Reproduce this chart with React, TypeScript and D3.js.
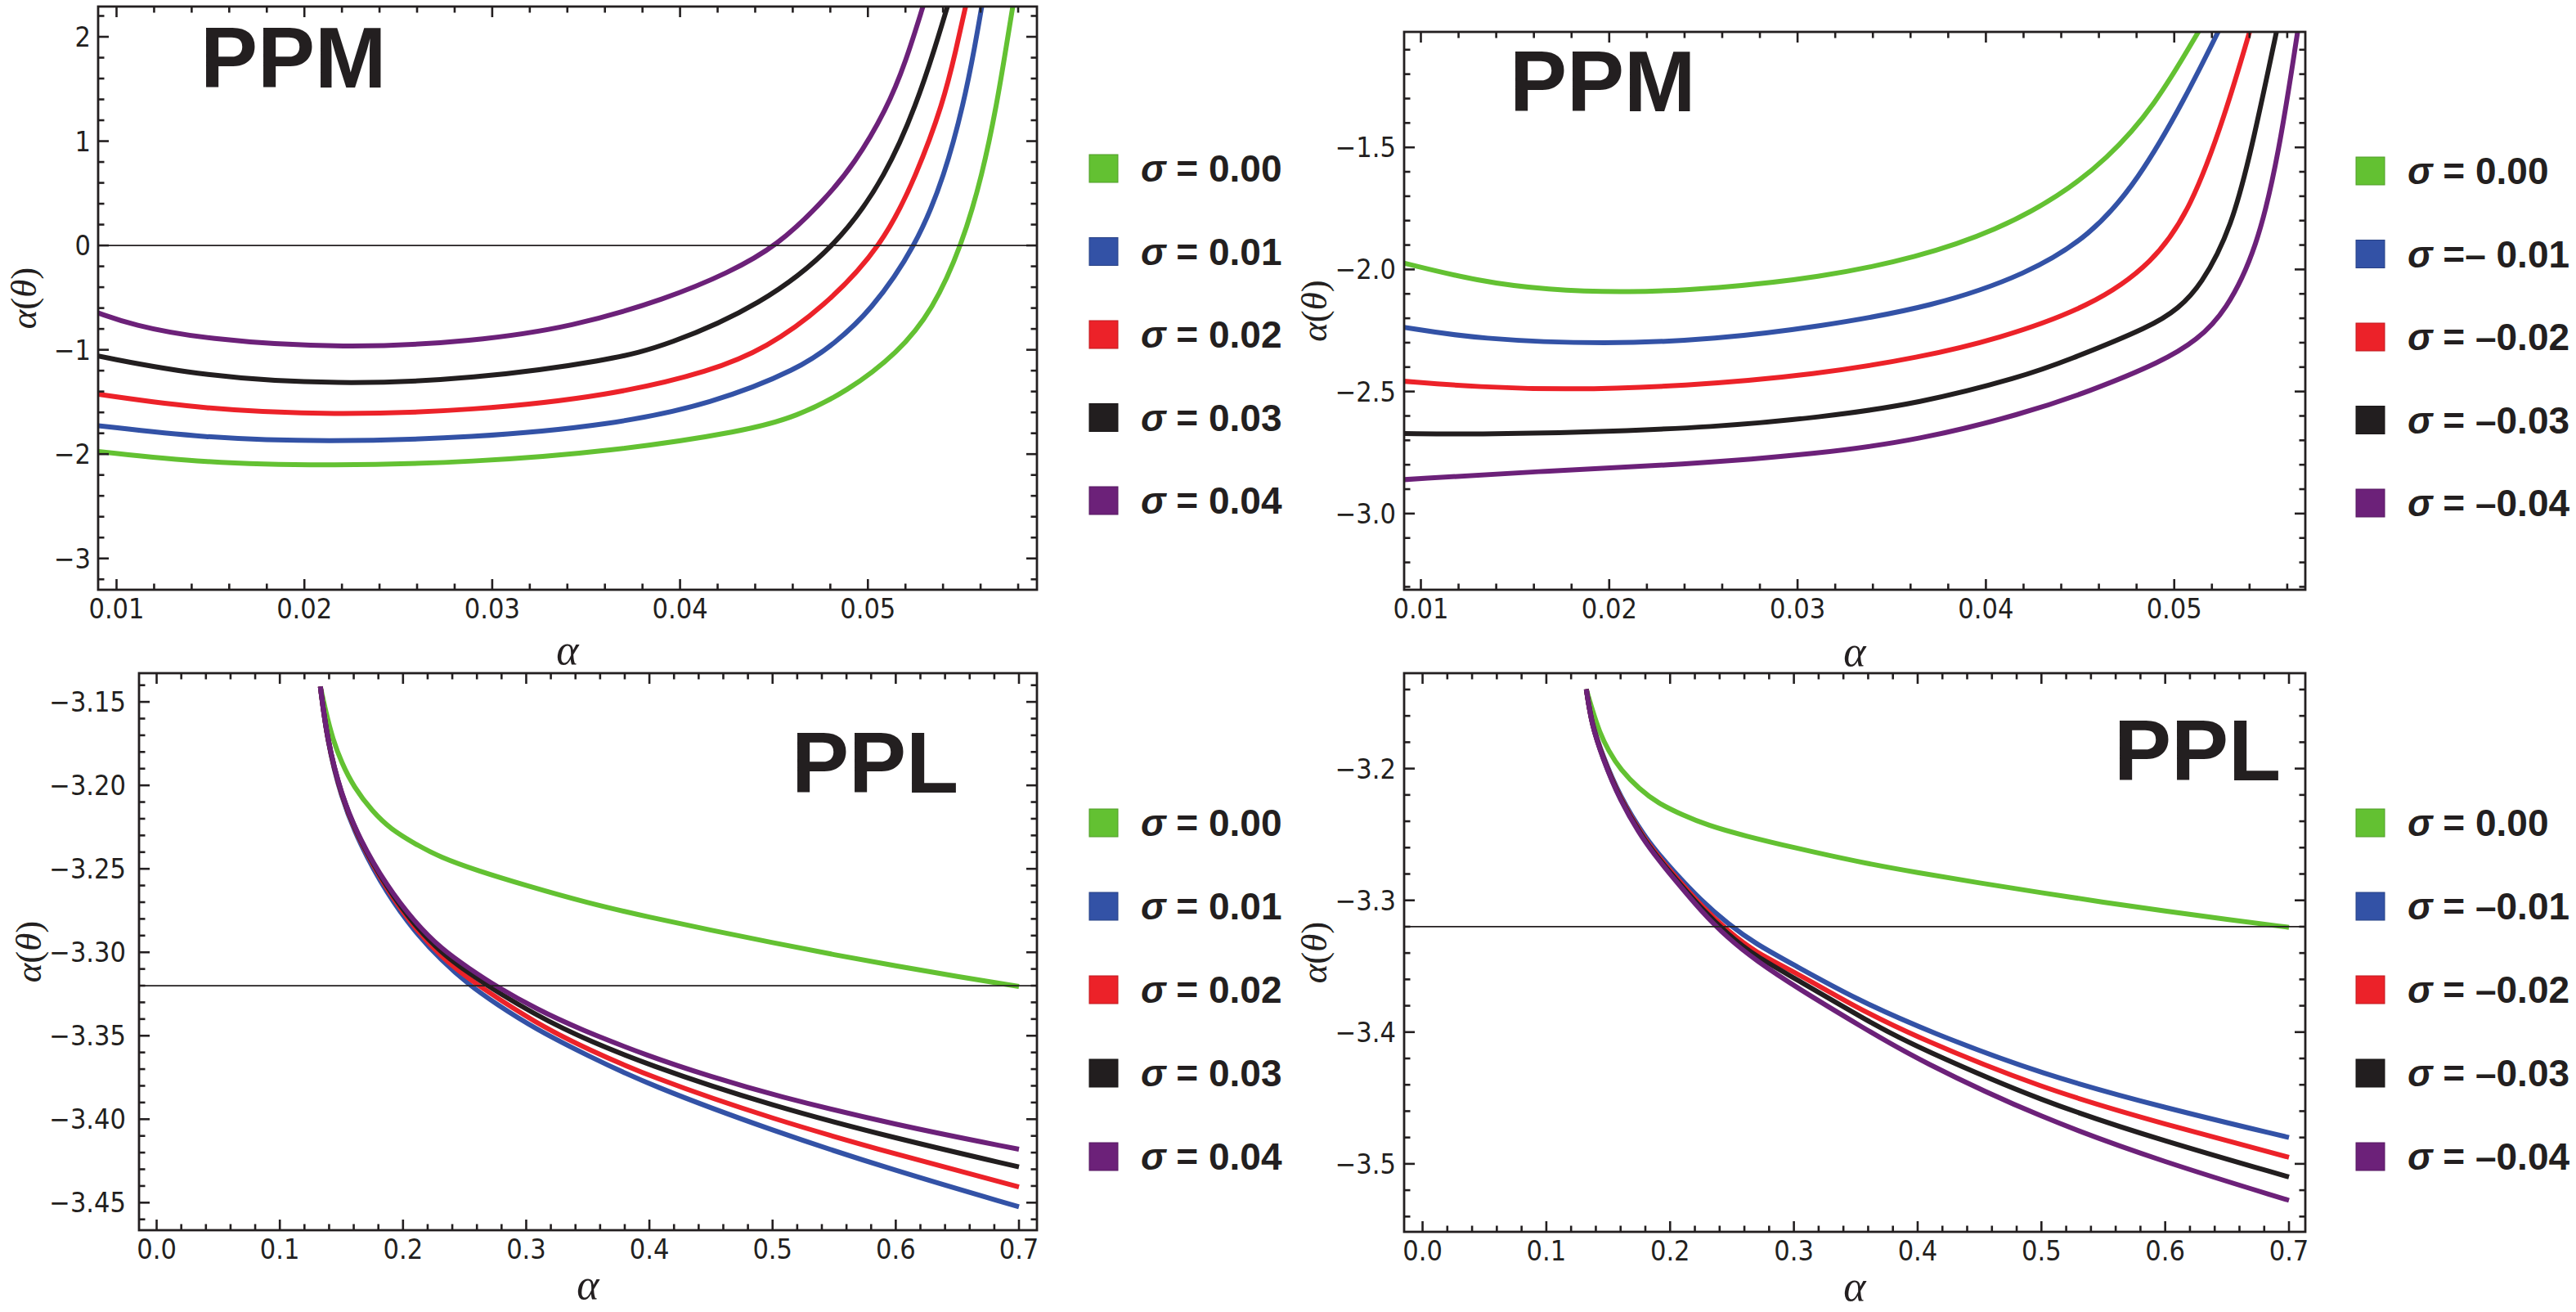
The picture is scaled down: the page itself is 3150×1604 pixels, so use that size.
import React, { useEffect, useRef } from 'react';
import * as d3 from 'd3';

type Pt = [number, number];

// PPM, sigma >= 0 (top left)
const ppmPosGreen: Pt[] = [[0.00902, -1.975], [0.0146, -2.085], [0.0215, -2.114], [0.029, -2.077], [0.0363, -1.975], [0.0435, -1.779], [0.0462, -1.64], [0.0489, -1.4], [0.0516, -1.03], [0.05345, -0.62], [0.055, 0], [0.0561, 0.68], [0.05687, 1.36], [0.05737, 1.91], [0.05775, 2.33]];
const ppmPosBlue: Pt[] = [[0.00902, -1.727], [0.0146, -1.844], [0.0211, -1.884], [0.029, -1.844], [0.0363, -1.722], [0.0417, -1.518], [0.0464, -1.178], [0.0482, -0.941], [0.0501, -0.64], [0.0526, 0], [0.0541, 0.68], [0.0551, 1.36], [0.0557, 1.91], [0.0561, 2.33]];
const ppmPosRed: Pt[] = [[0.00902, -1.426], [0.0146, -1.57], [0.0215, -1.627], [0.029, -1.583], [0.0363, -1.439], [0.0417, -1.204], [0.0446, -0.98], [0.0476, -0.601], [0.0508, 0], [0.0526, 0.68], [0.054, 1.36], [0.0547, 1.88], [0.05525, 2.33]];
const ppmPosBlack: Pt[] = [[0.00902, -1.06], [0.0146, -1.256], [0.0218, -1.335], [0.029, -1.282], [0.0363, -1.099], [0.0393, -0.96], [0.0443, -0.575], [0.0484, 0], [0.051, 0.68], [0.0526, 1.36], [0.0536, 1.91], [0.0543, 2.33]];
const ppmPosPurple: Pt[] = [[0.009, -0.645], [0.0108, -0.76], [0.0146, -0.9], [0.0222, -0.99], [0.029, -0.92], [0.0343, -0.78], [0.0393, -0.51], [0.0426, -0.261], [0.0452, 0], [0.0476, 0.418], [0.0493, 0.784], [0.051, 1.307], [0.052, 1.75], [0.053, 2.33]];

// PPM, sigma <= 0 (top right)
const ppmNegGreen: Pt[] = [[0.0091, -1.974], [0.01306, -2.049], [0.01667, -2.084], [0.021, -2.096], [0.02568, -2.078], [0.0311, -2.035], [0.0364, -1.951], [0.0406, -1.839], [0.0439, -1.7], [0.0464, -1.55], [0.0489, -1.34], [0.0514, -1.011]];
const ppmNegBlue: Pt[] = [[0.0091, -2.237], [0.01306, -2.286], [0.0199, -2.307], [0.02568, -2.286], [0.0311, -2.235], [0.03725, -2.152], [0.04224, -2.018], [0.04557, -1.861], [0.04807, -1.638], [0.05057, -1.302], [0.0525, -1.0]];
const ppmNegRed: Pt[] = [[0.0091, -2.458], [0.01306, -2.482], [0.01775, -2.493], [0.02387, -2.479], [0.0311, -2.43], [0.0365, -2.36], [0.0406, -2.286], [0.0456, -2.152], [0.0489, -1.973], [0.0509, -1.749], [0.0527, -1.369], [0.0541, -1.0]];
const ppmNegBlack: Pt[] = [[0.0091, -2.672], [0.01306, -2.675], [0.01847, -2.668], [0.02568, -2.646], [0.0311, -2.607], [0.0365, -2.549], [0.0419, -2.44], [0.04424, -2.376], [0.0489, -2.23], [0.0502, -2.16], [0.05139, -2.07], [0.05306, -1.83], [0.05422, -1.47], [0.0555, -1.0]];
const ppmNegPurple: Pt[] = [[0.0091, -2.861], [0.01667, -2.825], [0.02387, -2.8], [0.0311, -2.756], [0.03649, -2.698], [0.0419, -2.593], [0.0455, -2.5], [0.0494, -2.376], [0.0512, -2.29], [0.05273, -2.174], [0.05439, -1.917], [0.05556, -1.526], [0.05655, -1.027]];

// PPL, sigma >= 0 (bottom left)
const pplPosGreen: Pt[] = [[0.1329, -3.1408], [0.1373, -3.1559], [0.1429, -3.1722], [0.15, -3.1862], [0.16, -3.201], [0.175, -3.2155], [0.19, -3.2262], [0.21, -3.2352], [0.23, -3.243], [0.26, -3.251], [0.3, -3.26], [0.35, -3.2705], [0.4, -3.279], [0.45, -3.2868], [0.5, -3.2942], [0.55, -3.3015], [0.6, -3.3082], [0.65, -3.3145], [0.7, -3.3205]];
const pplPosBlue: Pt[] = [[0.1329, -3.1408], [0.1384, -3.173], [0.1495, -3.207], [0.165, -3.2355], [0.1871, -3.265], [0.2093, -3.2875], [0.2314, -3.305], [0.2535, -3.3195], [0.2757, -3.331], [0.3066, -3.3456], [0.35, -3.362], [0.4, -3.3795], [0.5, -3.407], [0.6, -3.431], [0.7, -3.4525]];
const pplPosRed: Pt[] = [[0.1329, -3.1408], [0.1384, -3.1726], [0.1495, -3.206], [0.165, -3.234], [0.1871, -3.2628], [0.2093, -3.2855], [0.2314, -3.303], [0.2535, -3.316], [0.2757, -3.327], [0.3155, -3.3456], [0.35, -3.358], [0.4, -3.3745], [0.5, -3.4], [0.6, -3.421], [0.7, -3.4406]];
const pplPosBlack: Pt[] = [[0.1329, -3.1408], [0.1384, -3.1724], [0.1495, -3.2055], [0.165, -3.2334], [0.1871, -3.2615], [0.2093, -3.2838], [0.2314, -3.3005], [0.2535, -3.3125], [0.2757, -3.3235], [0.3265, -3.3456], [0.4, -3.368], [0.5, -3.3921], [0.6, -3.4115], [0.7, -3.4286]];
const pplPosPurple: Pt[] = [[0.1329, -3.1408], [0.1384, -3.1722], [0.1495, -3.205], [0.165, -3.2328], [0.1871, -3.2605], [0.2093, -3.2818], [0.2314, -3.2982], [0.2535, -3.3096], [0.2757, -3.3205], [0.3089, -3.3342], [0.3421, -3.3456], [0.4, -3.3625], [0.45, -3.3745], [0.5, -3.3855], [0.6, -3.4035], [0.7, -3.418]];

// PPL, sigma <= 0 (bottom right)
const pplNegGreen: Pt[] = [[0.1323, -3.1398], [0.1373, -3.1559], [0.1429, -3.1722], [0.15, -3.1862], [0.16, -3.201], [0.175, -3.2155], [0.19, -3.2262], [0.21, -3.2352], [0.23, -3.243], [0.26, -3.251], [0.3, -3.26], [0.35, -3.2705], [0.4, -3.279], [0.45, -3.2868], [0.5, -3.2942], [0.55, -3.3015], [0.6, -3.3082], [0.65, -3.3145], [0.7, -3.3205]];
const pplNegBlue: Pt[] = [[0.1323, -3.1398], [0.1367, -3.166], [0.1455, -3.19], [0.1587, -3.22], [0.1806, -3.254], [0.2028, -3.278], [0.2249, -3.3], [0.2469, -3.318], [0.269, -3.333], [0.3, -3.349], [0.35, -3.375], [0.41, -3.4], [0.5, -3.432], [0.6, -3.4576], [0.7, -3.48]];
const pplNegRed: Pt[] = [[0.1323, -3.1398], [0.1367, -3.1666], [0.1455, -3.191], [0.1587, -3.2215], [0.1806, -3.256], [0.2028, -3.2805], [0.2249, -3.304], [0.2469, -3.3235], [0.269, -3.3395], [0.3, -3.354], [0.35, -3.381], [0.392, -3.401], [0.5, -3.443], [0.6, -3.47], [0.7, -3.495]];
const pplNegBlack: Pt[] = [[0.1323, -3.1398], [0.1367, -3.1669], [0.1455, -3.1915], [0.1587, -3.2223], [0.1806, -3.257], [0.2028, -3.282], [0.2249, -3.306], [0.2469, -3.326], [0.269, -3.3425], [0.3, -3.3587], [0.37, -3.3973], [0.4, -3.4114], [0.5, -3.4528], [0.6, -3.483], [0.7, -3.51]];
const pplNegPurple: Pt[] = [[0.1323, -3.1398], [0.1367, -3.1672], [0.1455, -3.192], [0.1587, -3.2231], [0.1806, -3.2582], [0.2028, -3.2832], [0.2249, -3.3081], [0.2469, -3.3289], [0.269, -3.3454], [0.3021, -3.3662], [0.3571, -3.3973], [0.4, -3.421], [0.5, -3.4655], [0.6, -3.499], [0.7, -3.5277]];

// legend texts (after the sigma)
const posLegend = ['= 0.00', '= 0.01', '= 0.02', '= 0.03', '= 0.04'];
const ppmNegLegend = ['= 0.00', '=\u2013 0.01', '= \u20130.02', '= \u20130.03', '= \u20130.04'];
const pplNegLegend = ['= 0.00', '= \u20130.01', '= \u20130.02', '= \u20130.03', '= \u20130.04'];

const COLORS = ['#63c132', '#3352a6', '#ec2229', '#221e1f', '#6c2179'];
const INK = '#231f20';
const TICK_FONT = "'Liberation Sans Narrow', 'DejaVu Sans Condensed', 'Arial Narrow', sans-serif";

interface Panel {
  id: string;
  title: string;
  titleX: number;
  titleY: number;
  box: { left: number; right: number; top: number; bottom: number };
  xDomain: [number, number];
  yDomain: [number, number];
  xMajor: [number, number, number];
  xMinorStep: number;
  yMajor: [number, number, number];
  yMinorStep: number;
  xFmt: (v: number) => string;
  yFmt: (v: number) => string;
  yLabelGap: number;
  refLine?: number;
  series: Pt[][];
  legend: string[];
  legendX: number;
  legendTop: number;
  legendStep: number;
  yLabelX: number;
  xLabelY: number;
}

const minus = (s: string) => s.replace('-', '\u2212');

const panels: Panel[] = [
  {
    id: 'tl', title: 'PPM', titleX: 245, titleY: 107,
    box: { left: 120, right: 1268, top: 8, bottom: 721 },
    xDomain: [0.00902, 0.059], yDomain: [-3.3, 2.29],
    xMajor: [0.01, 0.05, 0.01], xMinorStep: 0.002,
    yMajor: [-3, 2, 1], yMinorStep: 0.2,
    xFmt: d3.format('.2f'), yFmt: d3.format('d'), yLabelGap: 9,
    refLine: 0,
    series: [ppmPosGreen, ppmPosBlue, ppmPosRed, ppmPosBlack, ppmPosPurple],
    legend: posLegend, legendX: 1332, legendTop: 206, legendStep: 101.5,
    yLabelX: 44, xLabelY: 812,
  },
  {
    id: 'tr', title: 'PPM', titleX: 1846, titleY: 136,
    box: { left: 1717, right: 2819, top: 39, bottom: 721 },
    xDomain: [0.00911, 0.05696], yDomain: [-3.312, -1.027],
    xMajor: [0.01, 0.05, 0.01], xMinorStep: 0.002,
    yMajor: [-3, -1.5, 0.5], yMinorStep: 0.1,
    xFmt: d3.format('.2f'), yFmt: v => minus(d3.format('.1f')(v)), yLabelGap: 10,
    series: [ppmNegGreen, ppmNegBlue, ppmNegRed, ppmNegBlack, ppmNegPurple],
    legend: ppmNegLegend, legendX: 2881, legendTop: 209, legendStep: 101.5,
    yLabelX: 1622, xLabelY: 814,
  },
  {
    id: 'bl', title: 'PPL', titleX: 968, titleY: 969,
    box: { left: 170, right: 1268, top: 823, bottom: 1504 },
    xDomain: [-0.0143, 0.7146], yDomain: [-3.4665, -3.1328],
    xMajor: [0, 0.7, 0.1], xMinorStep: 0.02,
    yMajor: [-3.45, -3.15, 0.05], yMinorStep: 0.01,
    xFmt: d3.format('.1f'), yFmt: v => minus(d3.format('.2f')(v)), yLabelGap: 16,
    refLine: -3.32,
    series: [pplPosGreen, pplPosBlue, pplPosRed, pplPosBlack, pplPosPurple],
    legend: posLegend, legendX: 1332, legendTop: 1006, legendStep: 102,
    yLabelX: 50, xLabelY: 1588,
  },
  {
    id: 'br', title: 'PPL', titleX: 2585, titleY: 954,
    box: { left: 1717, right: 2819, top: 823, bottom: 1506 },
    xDomain: [-0.0149, 0.7132], yDomain: [-3.5516, -3.1276],
    xMajor: [0, 0.7, 0.1], xMinorStep: 0.02,
    yMajor: [-3.5, -3.2, 0.1], yMinorStep: 0.02,
    xFmt: d3.format('.1f'), yFmt: v => minus(d3.format('.1f')(v)), yLabelGap: 10,
    refLine: -3.32,
    series: [pplNegGreen, pplNegBlue, pplNegRed, pplNegBlack, pplNegPurple],
    legend: pplNegLegend, legendX: 2881, legendTop: 1006, legendStep: 102,
    yLabelX: 1622, xLabelY: 1590,
  },
];

const stepRange = (a: number, b: number, s: number) =>
  d3.range(Math.round((b - a) / s) + 1).map(i => +(a + i * s).toFixed(6));

const App = () => {
  const svgRef = useRef<SVGSVGElement>(null);

  useEffect(() => {
    if (!svgRef.current) return;
    const svg = d3.select(svgRef.current);
    svg.selectAll('*').remove();

    panels.forEach(p => {
      const { left, right, top, bottom } = p.box;
      const x = d3.scaleLinear().domain(p.xDomain).range([left, right]);
      const y = d3.scaleLinear().domain(p.yDomain).range([bottom, top]);
      const g = svg.append('g');

      g.append('clipPath').attr('id', 'clip-' + p.id)
        .append('rect')
        .attr('x', left).attr('y', top)
        .attr('width', right - left).attr('height', bottom - top);

      const plot = g.append('g').attr('clip-path', `url(#clip-${p.id})`);

      // smooth B-spline through the read-off points
      const line = d3.line<Pt>()
        .x(d => x(d[0]))
        .y(d => y(d[1]))
        .curve(d3.curveBasis);

      p.series.forEach((s, i) => {
        plot.append('path')
          .attr('d', line(s))
          .attr('fill', 'none')
          .attr('stroke', COLORS[i])
          .attr('stroke-width', 6)
          .attr('stroke-linejoin', 'round');
      });

      if (p.refLine !== undefined) {
        plot.append('line')
          .attr('x1', left).attr('x2', right)
          .attr('y1', y(p.refLine)).attr('y2', y(p.refLine))
          .attr('stroke', INK).attr('stroke-width', 1.8);
      }

      // ticks on all four sides, pointing inward
      const xMaj = stepRange(...p.xMajor);
      const yMaj = stepRange(...p.yMajor);
      const inDom = (v: number, dom: [number, number]) => v >= dom[0] && v <= dom[1];
      const xMin = stepRange(Math.ceil(p.xDomain[0] / p.xMinorStep) * p.xMinorStep, Math.floor(p.xDomain[1] / p.xMinorStep) * p.xMinorStep, p.xMinorStep)
        .filter(v => inDom(v, p.xDomain) && !xMaj.some(m => Math.abs(m - v) < p.xMinorStep / 10));
      const yMin = stepRange(Math.ceil(p.yDomain[0] / p.yMinorStep) * p.yMinorStep, Math.floor(p.yDomain[1] / p.yMinorStep) * p.yMinorStep, p.yMinorStep)
        .filter(v => inDom(v, p.yDomain) && !yMaj.some(m => Math.abs(m - v) < p.yMinorStep / 10));

      const ticks = g.append('g').attr('stroke', INK).attr('stroke-width', 2.6);
      const xt = [...xMaj.map(v => [v, 13]), ...xMin.map(v => [v, 7.5])];
      const yt = [...yMaj.map(v => [v, 13]), ...yMin.map(v => [v, 7.5])];
      xt.forEach(([v, len]) => {
        ticks.append('line').attr('x1', x(v)).attr('x2', x(v)).attr('y1', bottom).attr('y2', bottom - len);
        ticks.append('line').attr('x1', x(v)).attr('x2', x(v)).attr('y1', top).attr('y2', top + len);
      });
      yt.forEach(([v, len]) => {
        ticks.append('line').attr('y1', y(v)).attr('y2', y(v)).attr('x1', left).attr('x2', left + len);
        ticks.append('line').attr('y1', y(v)).attr('y2', y(v)).attr('x1', right).attr('x2', right - len);
      });

      g.append('rect')
        .attr('x', left).attr('y', top)
        .attr('width', right - left).attr('height', bottom - top)
        .attr('fill', 'none').attr('stroke', INK).attr('stroke-width', 2.8);

      // tick labels
      g.append('g').selectAll('text').data(xMaj).enter().append('text')
        .attr('x', d => x(d)).attr('y', bottom + 35)
        .attr('text-anchor', 'middle')
        .style('font-family', TICK_FONT).style('font-size', '34px').style('fill', INK)
        .text(d => p.xFmt(d));

      g.append('g').selectAll('text').data(yMaj).enter().append('text')
        .attr('x', left - p.yLabelGap).attr('y', d => y(d) + 12)
        .attr('text-anchor', 'end')
        .style('font-family', TICK_FONT).style('font-size', '34px').style('fill', INK)
        .text(d => p.yFmt(d));

      // axis labels
      g.append('text')
        .attr('x', (left + right) / 2).attr('y', p.xLabelY)
        .attr('text-anchor', 'middle')
        .style('font-family', "'Liberation Serif', serif").style('font-style', 'italic')
        .style('font-size', '52px').style('fill', INK)
        .text('\u03b1');

      // y label: baseline sits at yLabelX, glyphs extend to the left
      const yl = g.append('text')
        .attr('transform', `translate(${p.yLabelX},${(top + bottom) / 2}) rotate(-90)`)
        .attr('text-anchor', 'middle')
        .style('font-family', "'Liberation Serif', serif")
        .style('font-size', '45px').style('fill', INK);
      yl.append('tspan').style('font-style', 'italic').text('\u03b1');
      yl.append('tspan').text('(');
      yl.append('tspan').style('font-style', 'italic').text('\u03b8');
      yl.append('tspan').text(')');

      // panel title
      g.append('text')
        .attr('x', p.titleX).attr('y', p.titleY)
        .style('font-family', "'Liberation Sans', Arial, sans-serif").style('font-weight', 'bold')
        .style('font-size', '105px').style('fill', INK)
        .text(p.title);

      // legend
      const lg = g.append('g');
      p.legend.forEach((lab, i) => {
        const cy = p.legendTop + i * p.legendStep;
        lg.append('rect')
          .attr('x', p.legendX).attr('y', cy - 17)
          .attr('width', 35).attr('height', 34)
          .attr('fill', COLORS[i])
          .attr('stroke', d3.color(COLORS[i])!.darker(0.6).formatHex())
          .attr('stroke-width', 1);
        const t = lg.append('text')
          .attr('x', p.legendX + 63).attr('y', cy + 16)
          .style('font-family', "'Liberation Sans', Arial, sans-serif").style('font-weight', 'bold')
          .style('font-size', '46px').style('fill', INK)
          .attr('xml:space', 'preserve');
        t.append('tspan').style('font-style', 'italic').text('\u03c3');
        t.append('tspan').text(' ' + lab);
      });
    });
  }, []);

  return (
    <svg
      ref={svgRef}
      width={3150}
      height={1604}
      style={{ position: 'absolute', left: 0, top: 0, background: '#fff' }}
    />
  );
};

export default App;
